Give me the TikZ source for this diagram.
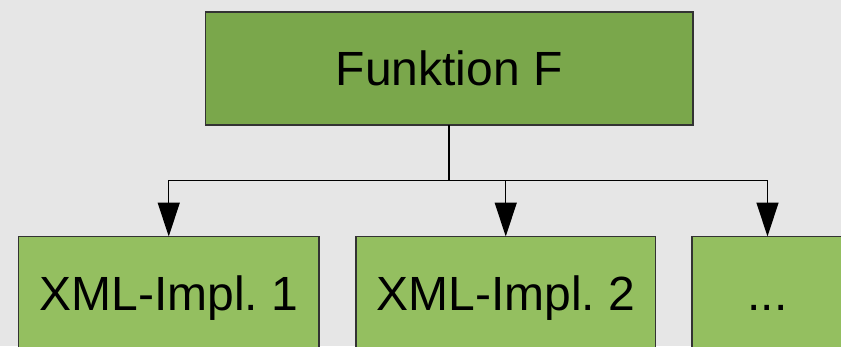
\documentclass[tikz,border=0pt]{standalone}
\usepackage{fontspec}
\setmainfont{Liberation Sans}
\usetikzlibrary{arrows.meta}
\definecolor{bgcol}{HTML}{E6E6E6}
\definecolor{topgreen}{HTML}{7AA74B}
\definecolor{subgreen}{HTML}{94BF60}
\definecolor{edgecol}{HTML}{333333}
\frenchspacing
\begin{document}
\begin{tikzpicture}[x=1pt,y=1pt,
  box/.style={draw=edgecol,line width=1.5pt,inner sep=0pt,outer sep=0pt,
    text height=35pt,text depth=1pt,
    font=\fontsize{48}{58}\selectfont},
  mainbox/.style={box,fill=topgreen},
  implbox/.style={box,fill=subgreen},
  link/.style={line width=1.3pt,draw=black},
  tip/.style={link,-{Triangle[width=22pt,length=34pt]}}]
\useasboundingbox (0,0) rectangle (841,-346);
\clip (0,0) rectangle (841,-346);
\fill[bgcol] (0,0) rectangle (841,-346);
\node[mainbox,minimum width=487.5pt,minimum height=113pt] (f) at (449.25,-68.5) {Funktion F};
\node[implbox,minimum width=300.5pt,minimum height=113pt] (i1) at (168.75,-293) {XML-Impl. 1};
\node[implbox,minimum width=299.5pt,minimum height=113pt] (i2) at (505.75,-293) {XML-Impl. 2};
\node[implbox,minimum width=151pt,minimum height=113pt] (i3) at (767.5,-293) {...};
\coordinate (split) at (449,-180.5);
\draw[link] (f.south -| split) -- (split);
\draw[tip] (split) -| (i1.north);
\draw[tip] (split) -| (i2.north);
\draw[tip] (split) -| (i3.north);
\end{tikzpicture}
\end{document}
